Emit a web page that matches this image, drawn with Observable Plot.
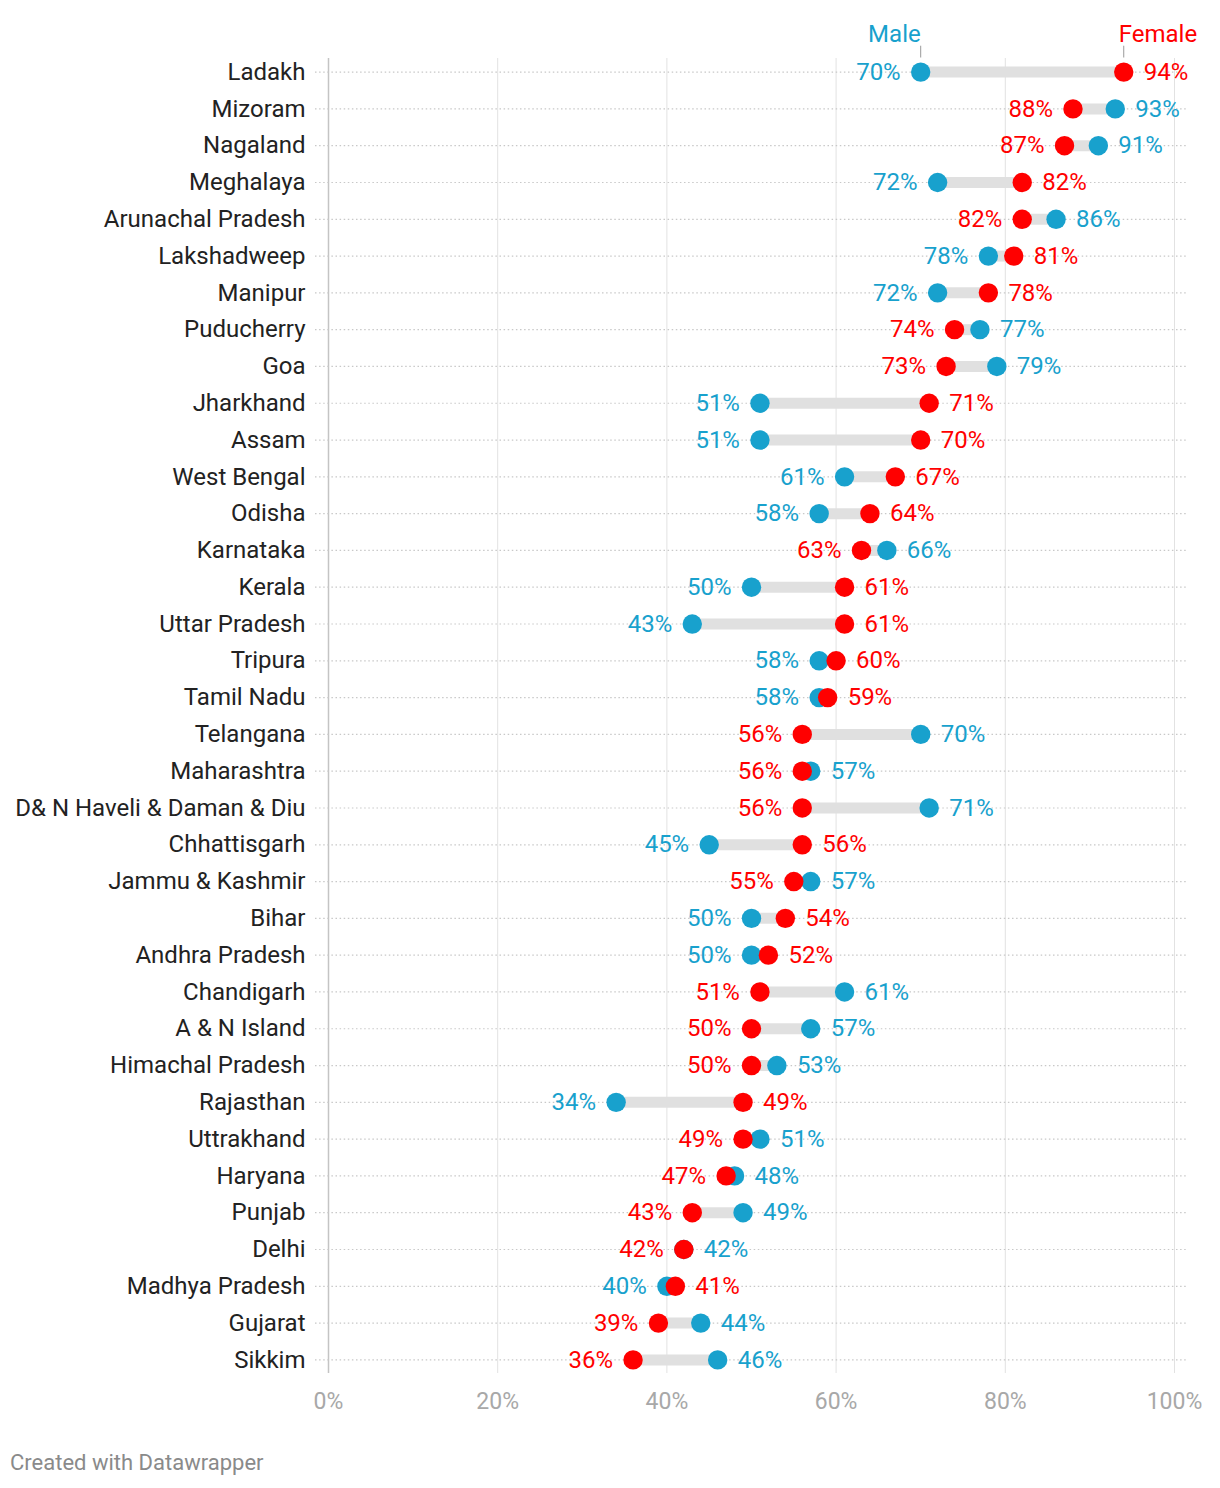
<!DOCTYPE html>
<html>
<head>
<meta charset="utf-8">
<script src="https://cdn.jsdelivr.net/npm/d3@7"></script>
<script src="https://cdn.jsdelivr.net/npm/@observablehq/plot@0.6"></script>
<style>
  html, body { margin: 0; padding: 0; background: #fff; }
  #wrap { position: relative; width: 1220px; height: 1488px; font-family: Roboto, "Noto Sans", sans-serif; }
  #caption { position: absolute; left: 10px; top: 1450px; font-size: 22px; color: #8a8a8a; }
</style>
</head>
<body>
<div id="wrap">
  <div id="chart"></div>
  <div id="caption">Created with Datawrapper</div>
</div>
<script>
const states = ["Ladakh","Mizoram","Nagaland","Meghalaya","Arunachal Pradesh","Lakshadweep","Manipur","Puducherry","Goa","Jharkhand","Assam","West Bengal","Odisha","Karnataka","Kerala","Uttar Pradesh","Tripura","Tamil Nadu","Telangana","Maharashtra","D& N Haveli & Daman & Diu","Chhattisgarh","Jammu & Kashmir","Bihar","Andhra Pradesh","Chandigarh","A & N Island","Himachal Pradesh","Rajasthan","Uttrakhand","Haryana","Punjab","Delhi","Madhya Pradesh","Gujarat","Sikkim"];
const male =   [70,93,91,72,86,78,72,77,79,51,51,61,58,66,50,43,58,58,70,57,71,45,57,50,50,61,57,53,34,51,48,49,42,40,44,46];
const female = [94,88,87,82,82,81,78,74,73,71,70,67,64,63,61,61,60,59,56,56,56,56,55,54,52,51,50,50,49,49,47,43,42,41,39,36];
const xTicks = [0,20,40,60,80,100];
const seriesNames = ["Male","Female"];

const MALE_C = "#18a1cd";
const FEMALE_C = "#ff0000";

const rows = states.map((s,i) => ({state: s, male: male[i], female: female[i]}));
// label placement: lower value left, higher value right (ties: female left)
const labels = [];
rows.forEach(r => {
  const femLeft = r.female <= r.male;
  labels.push({state: r.state, x: r.male, side: femLeft ? "right" : "left", color: MALE_C, text: r.male + "%"});
  labels.push({state: r.state, x: r.female, side: femLeft ? "left" : "right", color: FEMALE_C, text: r.female + "%"});
});
const headerMale = [{state: rows[0].state, x: rows[0].male, text: seriesNames[0]}];
const headerFemale = [{state: rows[0].state, x: rows[0].female, text: seriesNames[1]}];

const FS = 24;
const tickShape = {draw(context, l) { context.moveTo(0, 0); context.lineTo(0, -l); }};
const chart = Plot.plot({
  width: 1220,
  height: 1430,
  marginLeft: 328,
  marginRight: 46,
  marginTop: 58,
  marginBottom: 57,
  style: {fontFamily: "Roboto, 'Noto Sans', sans-serif", background: "#fff", overflow: "visible"},
  x: {domain: [0, 100]},
  y: {type: "point", domain: states, padding: 0.37, round: false},
  marks: [
    Plot.gridX(xTicks.slice(1), {stroke: "#e2e2e2", strokeOpacity: 1, strokeWidth: 1}),
    Plot.ruleX([0], {stroke: "#c4c4c4", strokeWidth: 1.5}),
    Plot.ruleY(rows, {y: "state", stroke: "#c8c8c8", strokeDasharray: "1.5,2.6", strokeWidth: 1.2, insetLeft: -13, insetRight: -12}),
    Plot.ruleY(rows, {y: "state", x1: "male", x2: "female", stroke: "#e0e0e0", strokeWidth: 11}),
    Plot.dot(rows, {x: "male", y: "state", r: 9.7, fill: MALE_C}),
    Plot.dot(rows, {x: "female", y: "state", r: 9.7, fill: FEMALE_C}),
    Plot.text(labels.filter(d => d.side === "left"), {x: "x", y: "state", text: "text", fill: d => d.color, textAnchor: "end", dx: -20, fontSize: FS}),
    Plot.text(labels.filter(d => d.side === "right"), {x: "x", y: "state", text: "text", fill: d => d.color, textAnchor: "start", dx: 20, fontSize: FS}),
    Plot.text(headerMale, {x: "x", y: "state", text: "text", fill: MALE_C, textAnchor: "end", dx: 0, dy: -38, fontSize: FS}),
    Plot.text(headerFemale, {x: "x", y: "state", text: "text", fill: FEMALE_C, textAnchor: "start", dx: -5, dy: -38, fontSize: FS}),
    Plot.vector(headerMale.concat(headerFemale), {x: "x", y: "state", length: 11, rotate: 0, anchor: "start", dy: -15, stroke: "#999", strokeWidth: 1, shape: tickShape}),
    Plot.axisY({tickSize: 0, tickPadding: 23, fontSize: FS, fill: "#222", label: null}),
    Plot.axisX({ticks: xTicks, tickSize: 0, tickPadding: 19, fontSize: 23, fill: "#a8a8a8", tickFormat: d => d + "%", label: null})
  ]
});
document.getElementById("chart").appendChild(chart);
</script>
</body>
</html>
